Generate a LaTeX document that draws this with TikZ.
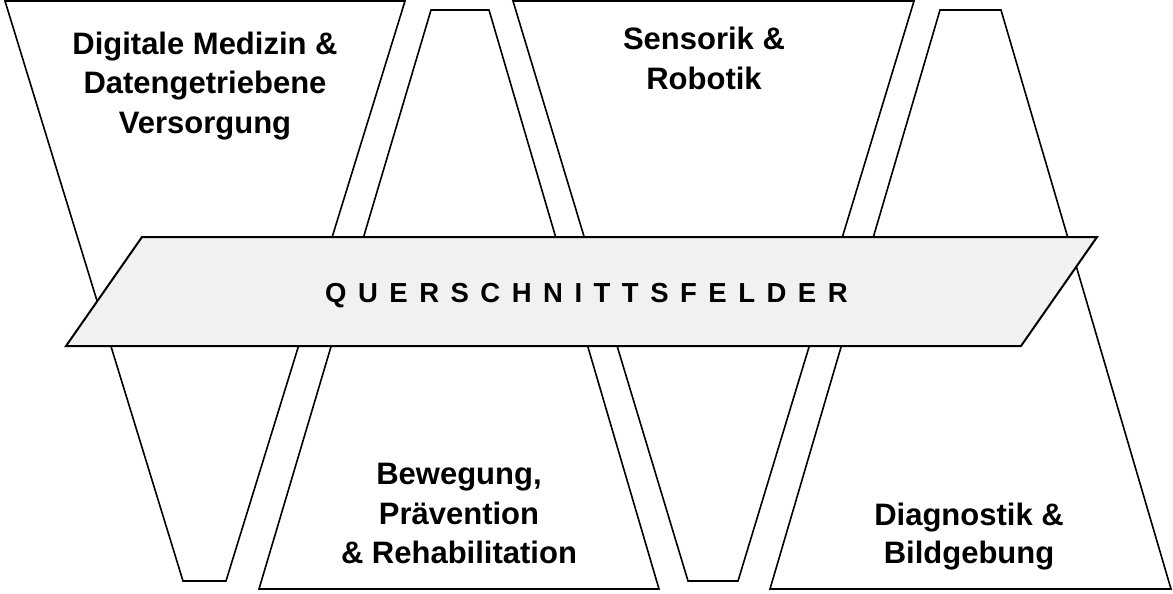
\documentclass[tikz,border=0pt]{standalone}
\usepackage{fontspec}
\setmainfont{Liberation Sans}
\definecolor{bandfill}{HTML}{F1F1F1}
\newcommand\qsp{\kern11.5pt}
\begin{document}
\begin{tikzpicture}[x=1pt,y=-1pt,
  trap/.style={draw=black, fill=white, line width=1.6pt, line join=miter},
  bandshape/.style={draw=black, fill=bandfill, line width=2pt, line join=miter},
  lbl/.style={font=\fontsize{31}{39}\selectfont\bfseries, inner sep=0pt, anchor=base},
  bandlbl/.style={font=\fontsize{27.5}{30}\selectfont\bfseries, inner sep=0pt, anchor=base west}]
\fill[white] (0,0) rectangle (1173,594);
\useasboundingbox (0,0) rectangle (1173,594);
% trapezoids
\draw[trap] (5,1) -- (405,1) -- (226,581) -- (183,581) -- cycle;
\draw[trap] (431,10) -- (489,10) -- (659,589) -- (259,589) -- cycle;
\draw[trap] (513,1) -- (914,1) -- (738,581) -- (688,581) -- cycle;
\draw[trap] (940,10) -- (1001,10) -- (1171,589) -- (770,589) -- cycle;
% band
\draw[bandshape] (142,237) -- (1097,237) -- (1021,346) -- (66,346) -- cycle;
\node[bandlbl] (band) at (325,302.7) {Q\qsp U\qsp E\qsp R\qsp S\qsp C\qsp H\qsp N\qsp I\qsp T\qsp T\qsp S\qsp F\qsp E\qsp L\qsp D\qsp E\qsp R};
% labels
\node[lbl] (a1) at (205,55) {Digitale Medizin \&};
\node[lbl] (a2) at (205,94) {Datengetriebene};
\node[lbl] (a3) at (205,133) {Versorgung};
\node[lbl] (c1) at (704,50) {Sensorik \&};
\node[lbl] (c2) at (704,89) {Robotik};
\node[lbl] (b1) at (459,484) {Bewegung,};
\node[lbl] (b2) at (459,524) {Prävention};
\node[lbl] (b3) at (459,563) {\& Rehabilitation};
\node[lbl] (d1) at (969,525) {Diagnostik \&};
\node[lbl] (d2) at (969,563) {Bildgebung};
\end{tikzpicture}
\end{document}
